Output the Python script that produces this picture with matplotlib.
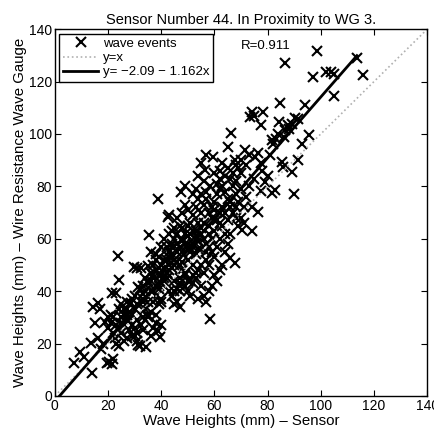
import matplotlib
matplotlib.use("Agg")
import matplotlib.pyplot as plt
import numpy as np

plt.rcParams['font.family'] = ['Liberation Sans', 'DejaVu Sans']

# Wave heights (mm): sensor reading vs. wire resistance wave gauge
sensor = [
    7.3, 9.6, 11, 13.6, 13.8, 14.2, 16.1, 17, 15.1, 16.1, 18, 17.5, 18.9, 19.9, 20, 21, 21,
    19.5, 20.5, 21.5, 21.7, 22, 22.5, 23, 24, 23.6, 24.3, 23, 21.4, 25, 26, 25, 27, 26, 28, 28,
    28.7, 31.2, 31, 32, 34.3, 32.5, 33, 34, 35, 31.2, 32.5, 29.9, 31, 35, 33, 34, 36, 37, 38,
    36, 38, 38.7, 39.4, 40, 36, 37, 38, 39, 40, 40, 39, 38, 37, 39, 35.6, 36.2, 38, 40, 40, 41,
    42.5, 43, 38.7, 44, 45, 43, 42, 44, 42, 43, 44, 45, 46, 47, 46, 47, 48, 45, 46, 47, 48, 49,
    50, 47, 46, 48, 48.8, 50, 47.5, 52, 48.8, 53, 55,
    49, 50, 51, 52, 53, 54, 55, 56, 57, 58, 59, 60, 61, 62, 63, 64, 65, 62, 60, 58, 56, 55, 54,
    53, 52, 51, 50, 52, 53, 55, 57, 58, 59, 60, 61, 62, 58.2, 57, 56, 60, 62, 63, 64, 65, 66,
    67, 68, 69, 66, 65, 64, 65.8, 67.7, 63, 62, 60, 61, 59, 58, 56, 57, 54, 55, 56.4, 54, 57,
    70.2, 74, 74, 76.5, 70, 71, 72, 73, 75, 70, 68, 67, 69, 70, 71.5, 73, 76.5, 75.2, 77.7, 78,
    79.2, 77.7, 81.5, 82.8, 80, 81, 82, 83, 84, 81.5, 67.7, 68, 66.4, 65.2, 59.5, 74, 75, 78.4,
    77.7, 73.3, 84.3, 87.8, 86.5, 84.7, 90.3, 91.5, 94, 95.4, 92.8, 91.5, 85.3, 85.9, 89.3, 90,
    88, 89, 86,
    98.5, 86.5, 113.6, 116, 96.9, 102, 104, 104.8, 105, 58.2,
    26, 27, 29, 30, 30, 31, 33, 34, 35, 36, 37, 41, 42, 43, 44, 45, 46, 48, 50, 51, 52, 53, 54,
    41, 43, 47, 49, 51, 53, 55, 44, 46, 48, 50, 52, 35, 33, 29, 27, 24, 30, 40, 42, 39, 45, 47,
    22, 23, 24, 25, 26, 27, 28, 29, 30, 31, 32, 33, 34, 35, 36, 37, 38, 39, 40, 41, 42, 43, 44,
    45, 46, 47, 48, 49, 50, 51, 52, 53, 54, 55, 56, 57, 58, 59, 60, 61, 62, 63, 64, 65, 66, 67,
    68, 69, 70, 72, 71, 63, 61, 59, 57, 55, 53, 51, 49, 47, 45, 43, 41, 39, 37, 35, 33, 31, 29,
    27, 25, 44, 46, 48, 50, 52, 54, 56, 58, 60, 62, 64, 66, 68,
]
gauge = [
    12.5, 16.9, 15, 20.1, 8.9, 33.8, 35.4, 33, 27.7, 22, 20, 18, 28.4, 30.3, 26, 31, 28,
    12.5, 13, 12, 14, 24, 22, 20, 19, 53.4, 44.3, 39.2, 39.2, 30, 27, 24, 22, 21, 32, 25,
    35.6, 19.5, 21, 19, 18.8, 27.1, 30, 33, 36, 41.7, 48.7, 49.4, 49, 49.5, 42, 45, 44, 40, 38,
    32, 28, 24.6, 22.6, 27, 23, 26, 31, 35, 37, 43, 46, 48, 50, 53, 61.5, 55.1, 54, 50, 57, 60,
    68.4, 69, 75, 63, 60, 55, 52, 49, 45, 40, 38, 35, 36, 34, 41, 45, 48, 52, 55, 57, 60, 62,
    65, 65, 68, 70, 72.9, 71, 78, 77, 80.2, 79, 77,
    42, 40, 38, 43, 45, 48, 42, 47, 52, 50, 55, 53, 57, 60, 65, 62, 67, 70, 67, 65, 60, 62, 66,
    60, 58, 55, 52, 50, 54, 56, 58, 70, 72, 74, 77, 79, 80.3, 78, 82, 85, 83, 80, 78, 75, 72,
    70, 68, 65, 62, 58, 55, 52.5, 50.6, 50, 48, 46, 44, 42, 40, 38, 36, 37, 88.8, 86.3, 84, 92,
    63.4, 63, 72.3, 70.4, 68, 72, 76, 80, 83, 79, 82, 85, 87, 90, 93.9, 92, 92.9, 91.3, 88.8, 86,
    81.8, 78.4, 77.4, 78.6, 84, 92, 96, 98, 100, 97.7, 90, 88, 100.3, 95.2, 91.3, 108.5, 107, 108.5,
    103.4, 106.6, 104.7, 103.4, 101.5, 111.7, 106, 105.6, 111, 99.6, 96.2, 90, 89.4, 87.5, 85.6, 77,
    102, 104, 99,
    131.8, 127, 129, 122.5, 121.6, 123.8, 123.8, 114.5, 123, 29.3,
    33, 29, 37, 26, 33, 24, 39, 29, 44, 40, 46, 49, 47, 53, 57, 50, 55, 51, 58, 62, 57, 63, 56,
    45, 50, 43, 47, 56, 61, 64, 54, 51, 59, 44, 46, 31, 36, 23, 31, 26, 23, 36, 47, 42, 40, 42,
    30, 27, 33, 35, 31, 36, 29, 27, 38, 35, 41, 37, 40, 43, 47, 45, 52, 49, 46, 52, 57, 62, 58,
    64, 62, 50, 55, 58, 61, 66, 69, 72, 75, 70, 73, 75, 62, 68, 71, 81, 86, 89, 84, 87, 83, 80,
    77, 74, 85, 88, 66, 72, 67, 60, 55, 50, 47, 44, 46, 40, 44, 48, 44, 41, 36, 30, 25, 29, 31,
    33, 28, 53, 58, 64, 56, 63, 59, 66, 57, 63, 66, 70, 74, 72,
]

fit_intercept = -2.09
fit_slope = 1.162
r_value = 0.911

fig = plt.figure(figsize=(4.35, 4.36), dpi=100)
ax = fig.add_axes([0.126, 0.092, 0.856, 0.841])

ax.plot(sensor, gauge, linestyle='none', marker='x', color='black',
        markersize=7, markeredgewidth=1.5, label='wave events')
ax.plot([0, 140], [0, 140], linestyle=':', color='#b0b0b0', linewidth=1.2, label='y=x')
x_fit = np.array([-fit_intercept / fit_slope, max(sensor) - 2.4])
ax.plot(x_fit, fit_intercept + fit_slope * x_fit, color='black', linewidth=2,
        label='y= \u22122.09 \u2212 1.162x')

ax.text(70, 133.5, f'R={r_value}', fontsize=9.5, va='center', ha='left')

ax.set_xlim(0, 140)
ax.set_ylim(0, 140)
ticks = [0, 20, 40, 60, 80, 100, 120, 140]
ax.set_xticks(ticks)
ax.set_yticks(ticks)
ax.tick_params(direction='in', top=True, right=True, length=4, width=0.8,
               labelsize=10, pad=2)
for s in ax.spines.values():
    s.set_linewidth(1.0)

ax.set_title('Sensor Number 44. In Proximity to WG 3.', fontsize=10.5, pad=4)
ax.set_xlabel('Wave Heights (mm) \u2013 Sensor', fontsize=10.8, labelpad=1)
ax.set_ylabel('Wave Heights (mm) \u2013 Wire Resistance Wave Gauge', fontsize=10.8, labelpad=1)

leg = ax.legend(loc='upper left', fontsize=9.5, frameon=True, fancybox=False,
                edgecolor='black', framealpha=1, borderpad=0.3, labelspacing=0.15,
                handlelength=2.6, handletextpad=0.4, borderaxespad=0.35)
leg.get_frame().set_linewidth(1.0)

fig.savefig('out.png', dpi=100)
